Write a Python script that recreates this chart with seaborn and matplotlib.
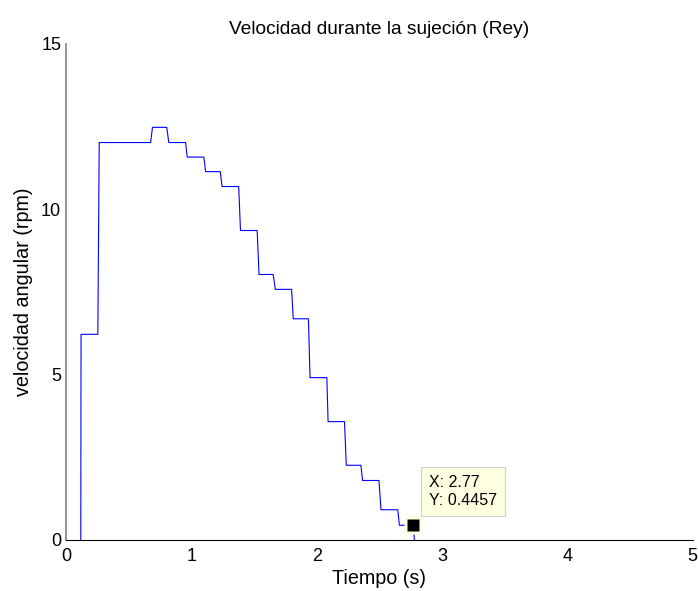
import pandas as pd
import matplotlib
matplotlib.use("Agg")
import matplotlib.pyplot as plt
import seaborn as sns

# Speed plateaus (rpm) while gripping, with the time span (s) of each one
levels = [6.22, 12.02, 12.48, 12.02, 11.58, 11.14, 10.69, 9.36, 8.03,
          7.58, 6.69, 4.91, 3.58, 2.26, 1.80, 0.915, 0.4457]
t_start = [0.12, 0.265, 0.69, 0.82, 0.967, 1.114, 1.245, 1.392, 1.54,
           1.67, 1.813, 1.947, 2.091, 2.236, 2.366, 2.513, 2.66]
t_end = [0.254, 0.675, 0.804, 0.954, 1.10, 1.231, 1.378, 1.525, 1.653,
         1.80, 1.934, 2.081, 2.222, 2.353, 2.497, 2.647, 2.77]
t_on, t_off = 0.118, 2.78      # instants where the speed is zero

# Data cursor
tip_x, tip_y = 2.77, 0.4457

x_ticks = [0, 1, 2, 3, 4, 5]
y_ticks = [0, 5, 10, 15]

# Build the sampled signal as a polyline
time = [t_on]
speed = [0.0]
for a, b, v in zip(t_start, t_end, levels):
    time += [a, b]
    speed += [v, v]
time.append(t_off)
speed.append(0.0)
df = pd.DataFrame({"t": time, "w": speed})

sns.set_style("white")
plt.rcParams["font.family"] = ["Liberation Sans", "DejaVu Sans"]
for key in ("text.color", "axes.labelcolor", "xtick.color", "ytick.color"):
    plt.rcParams[key] = "black"

W, H = 698, 591
fig = plt.figure(figsize=(W / 100, H / 100), dpi=100)
ax = fig.add_axes([66 / W, 1 - 540 / H, (692.7 - 66) / W, (540 - 44) / H])

sns.lineplot(data=df, x="t", y="w", estimator=None, sort=False,
             color="#0000FF", linewidth=0.8, ax=ax)

ax.set_xlim(0, 5)
ax.set_ylim(0, 15)
ax.set_xticks(x_ticks)
ax.set_yticks(y_ticks)
ax.tick_params(direction="in", length=3.6, width=0.7, labelsize=13,
               color="black")
ax.tick_params(axis="x", pad=6)
ax.tick_params(axis="y", pad=3.5)
for s in ("top", "right"):
    ax.spines[s].set_visible(False)
ax.spines["left"].set_color("#808080")
ax.spines["left"].set_linewidth(1.2)
ax.spines["bottom"].set_color("black")
ax.spines["bottom"].set_linewidth(0.8)

ax.set_title("Velocidad durante la sujeción (Rey)", fontsize=13.75, pad=7.5)
ax.set_xlabel("Tiempo (s)", fontsize=14.2, labelpad=3)
ax.set_ylabel("velocidad angular (rpm)", fontsize=14.2, labelpad=6)

# Data cursor marker and label
ax.plot(tip_x, tip_y, "s", ms=13, color="#FFFFE1", mec="none", zorder=5,
        clip_on=False)
ax.plot(tip_x, tip_y, "s", ms=8, color="black", mec="none", zorder=6,
        clip_on=False)
ax.annotate(f"X: {tip_x:g}\nY: {tip_y:g}", xy=(tip_x, tip_y),
            xytext=(11.5, 12.7), textcoords="offset points",
            ha="left", va="bottom", fontsize=11.5, linespacing=1.25,
            zorder=7,
            bbox=dict(boxstyle="square,pad=0.5", fc="#FFFFE1",
                      ec="#D0D0D0", lw=0.8))

fig.savefig("out.png", dpi=100)
